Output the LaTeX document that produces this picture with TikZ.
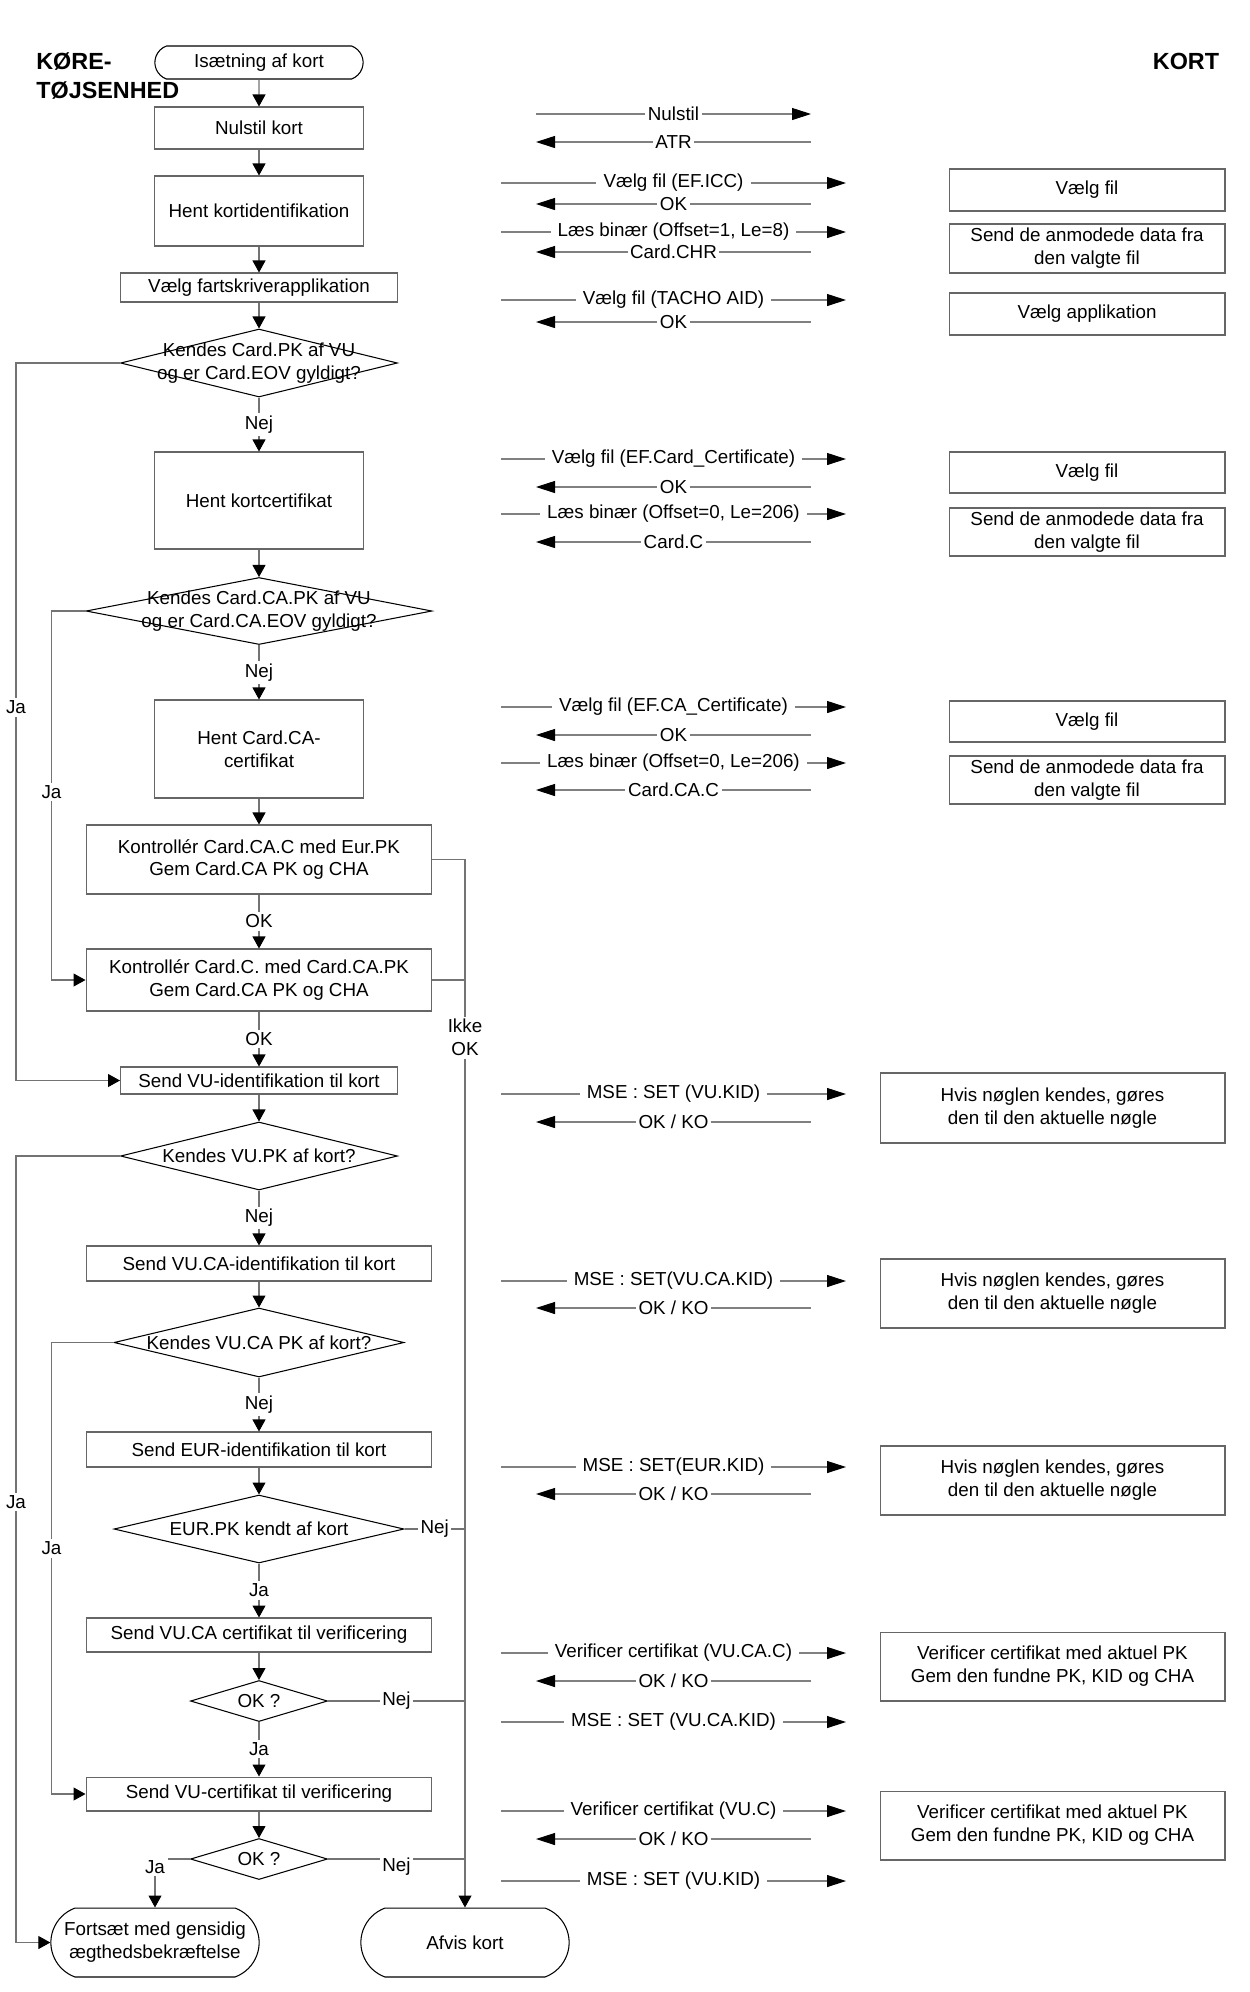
\documentclass[tikz,border=0pt]{standalone}
\usepackage{fontspec}
\setmainfont{Liberation Sans}
\usetikzlibrary{arrows.meta, positioning, shapes.geometric, shapes.misc}

\begin{document}
\begin{tikzpicture}[
  x=0.02cm, y=-0.02cm,
  every node/.style={font=\fontsize{10.7}{13}\selectfont},
  box/.style={
    draw=black!60,
    line width=0.6pt,
    align=center,
    inner sep=2pt
  },
  cardbox/.style={box, minimum width=5.52cm},
  keybox/.style={box, minimum width=6.9cm, minimum height=1.38cm},
  decide/.style={
    draw=black,
    line width=0.6pt,
    diamond,
    inner sep=0pt
  },
  qtext/.style={align=center, inner sep=0pt},
  terminal/.style={
    draw=black,
    line width=0.6pt,
    rounded rectangle,
    rounded rectangle arc length=140,
    align=center
  },
  heading/.style={font=\fontsize{13.3}{16.5}\selectfont\bfseries, align=left, inner sep=0pt},
  arrow/.style={-{Triangle[length=0.24cm, width=0.26cm, color=black]}, draw=black!55, line width=0.6pt},
  link/.style={draw=black!55, line width=0.6pt},
  msg/.style={-{Triangle[length=0.38cm, width=0.24cm, color=black]}, draw=black!50, line width=0.6pt},
  tag/.style={fill=white, inner sep=1.5pt, align=center}
]
  \useasboundingbox (0,0) rectangle (1250,1992);

  % headings
  \node[heading, anchor=north west] (vuhead) at (36,52) {KØRE-\\TØJSENHED};
  \node[heading] (cardhead) at (1186,61) {KORT};

  % vehicle unit flow
  \node[terminal, minimum width=4.4cm, minimum height=0.66cm] (start) at (259,62.5) {Isætning af kort};
  \node[box, minimum width=4.18cm, minimum height=0.84cm] (reset) at (259,128) {Nulstil kort};
  \node[box, minimum width=4.18cm, minimum height=1.4cm] (cardid) at (259,211) {Hent kortidentifikation};
  \node[box, minimum width=5.54cm, minimum height=0.58cm] (selapp) at (259,287.5) {Vælg fartskriverapplikation};
  \node[decide, minimum width=5.54cm, minimum height=1.36cm] (q1) at (259,363) {};
  \node[qtext] (q1t) at (q1) {Kendes Card.PK af VU\\og er Card.EOV gyldigt?};
  \node[box, minimum width=4.18cm, minimum height=1.94cm] (cardcert) at (259,500.5) {Hent kortcertifikat};
  \node[decide, minimum width=6.92cm, minimum height=1.34cm] (q2) at (259,611) {};
  \node[qtext] (q2t) at (q2) {Kendes Card.CA.PK af VU\\og er Card.CA.EOV gyldigt?};
  \node[box, minimum width=4.18cm, minimum height=1.96cm] (cacert) at (259,749) {Hent Card.CA-\\certifikat};
  \node[box, minimum width=6.92cm, minimum height=1.38cm] (chk1) at (259,859.5) {Kontrollér Card.CA.C med Eur.PK\\Gem Card.CA PK og CHA};
  \node[box, minimum width=6.92cm, minimum height=1.24cm] (chk2) at (259,980) {Kontrollér Card.C. med Card.CA.PK\\Gem Card.CA PK og CHA};
  \node[box, minimum width=5.54cm, minimum height=0.54cm] (sendvu) at (259,1080.5) {Send VU-identifikation til kort};
  \node[decide, minimum width=5.54cm, minimum height=1.36cm] (q3) at (259,1156) {};
  \node[qtext] (q3t) at (q3) {Kendes VU.PK af kort?};
  \node[box, minimum width=6.92cm, minimum height=0.7cm] (sendca) at (259,1263.5) {Send VU.CA-identifikation til kort};
  \node[decide, minimum width=5.8cm, minimum height=1.38cm] (q4) at (259,1342.5) {};
  \node[qtext] (q4t) at (q4) {Kendes VU.CA PK af kort?};
  \node[box, minimum width=6.92cm, minimum height=0.7cm] (sendeur) at (259,1449.5) {Send EUR-identifikation til kort};
  \node[decide, minimum width=5.8cm, minimum height=1.36cm] (q5) at (259,1529) {};
  \node[qtext] (q5t) at (q5) {EUR.PK kendt af kort};
  \node[box, minimum width=6.92cm, minimum height=0.68cm] (sendcacert) at (259,1635) {Send VU.CA certifikat til verificering};
  \node[decide, minimum width=2.74cm, minimum height=0.82cm] (q6) at (259,1701) {};
  \node[qtext] (q6t) at (q6) {OK ?};
  \node[box, minimum width=6.92cm, minimum height=0.68cm] (sendvucert) at (259,1794) {Send VU-certifikat til verificering};
  \node[decide, minimum width=2.74cm, minimum height=0.82cm] (q7) at (259,1859) {};
  \node[qtext] (q7t) at (q7) {OK ?};
  \node[terminal, minimum width=4.4cm, minimum height=1.38cm] (cont) at (155,1942.5) {Fortsæt med gensidig\\ægthedsbekræftelse};
  \node[terminal, minimum width=4.4cm, minimum height=1.38cm] (reject) at (465,1942.5) {Afvis kort};

  \draw[arrow] (start) -- (reset);
  \draw[arrow] (reset) -- (cardid);
  \draw[arrow] (cardid) -- (selapp);
  \draw[arrow] (selapp) -- (q1);
  \draw[arrow] (q1) -- node[tag]{Nej} (cardcert);
  \draw[arrow] (cardcert) -- (q2);
  \draw[arrow] (q2) -- node[tag]{Nej} (cacert);
  \draw[arrow] (cacert) -- (chk1);
  \draw[arrow] (chk1) -- node[tag]{OK} (chk2);
  \draw[arrow] (chk2) -- node[tag]{OK} (sendvu);
  \draw[arrow] (sendvu) -- (q3);
  \draw[arrow] (q3) -- node[tag]{Nej} (sendca);
  \draw[arrow] (sendca) -- (q4);
  \draw[arrow] (q4) -- node[tag]{Nej} (sendeur);
  \draw[arrow] (sendeur) -- (q5);
  \draw[arrow] (q5) -- node[tag]{Ja} (sendcacert);
  \draw[arrow] (sendcacert) -- (q6);
  \draw[arrow] (q6) -- node[tag]{Ja} (sendvucert);
  \draw[arrow] (sendvucert) -- (q7);

  % yes branches on the left
  \draw[arrow] (q1.west) -- ++(-104,0) |- node[tag, pos=0.24]{Ja} (sendvu.west);
  \draw[arrow] (q2.west) -- ++(-34,0) |- node[tag, pos=0.245]{Ja} (chk2.west);
  \draw[arrow] (q3.west) -- ++(-104,0) |- node[tag, pos=0.22]{Ja} (cont.west);
  \draw[arrow] (q4.west) -- ++(-62,0) |- node[tag, pos=0.228]{Ja} (sendvucert.west);
  \draw[arrow] (q7.west) -| node[tag, pos=0.5, yshift=-0.16cm]{Ja} (cont.north);

  % rejections on the right
  \draw[arrow] (chk1.east) -| node[tag, pos=0.585]{Ikke\\OK} (reject.north);
  \draw[link] (chk2.east) -- (chk2.east -| reject.north);
  \draw[link] (q5.east) -- node[tag]{Nej} (q5.east -| reject.north);
  \draw[link] (q6.east) -- node[tag]{Nej} (q6.east -| reject.north);
  \draw[link] (q7.east) -- node[tag, yshift=-0.16cm]{Nej} (q7.east -| reject.north);

  % card side
  \node[cardbox, minimum height=0.84cm] (sel1) at (1087,190) {Vælg fil};
  \node[cardbox, minimum height=0.98cm] (read1) at (1087,248.5) {Send de anmodede data fra\\den valgte fil};
  \node[cardbox, minimum height=0.84cm] (selapp2) at (1087,314) {Vælg applikation};
  \node[cardbox, minimum height=0.82cm] (sel2) at (1087,472.5) {Vælg fil};
  \node[cardbox, minimum height=0.96cm] (read2) at (1087,532) {Send de anmodede data fra\\den valgte fil};
  \node[cardbox, minimum height=0.82cm] (sel3) at (1087,721.5) {Vælg fil};
  \node[cardbox, minimum height=0.96cm] (read3) at (1087,780) {Send de anmodede data fra\\den valgte fil};
  \node[keybox, minimum height=1.4cm] (key1) at (1052.5,1108) {Hvis nøglen kendes, gøres\\den til den aktuelle nøgle};
  \node[keybox] (key2) at (1052.5,1293.5) {Hvis nøglen kendes, gøres\\den til den aktuelle nøgle};
  \node[keybox] (key3) at (1052.5,1480.5) {Hvis nøglen kendes, gøres\\den til den aktuelle nøgle};
  \node[keybox] (ver1) at (1052.5,1666.5) {Verificer certifikat med aktuel PK\\Gem den fundne PK, KID og CHA};
  \node[keybox] (ver2) at (1052.5,1825.5) {Verificer certifikat med aktuel PK\\Gem den fundne PK, KID og CHA};

  % commands to the card
  \coordinate (rsta) at (536,114);
  \coordinate (rstb) at (811,114);
  \draw[msg] (rsta) -- node[tag]{Nulstil} (rstb);
  \foreach \yy/\txt [count=\k] in {
    183/{Vælg fil (EF.ICC)},
    232/{Læs binær (Offset=1, Le=8)},
    300/{Vælg fil (TACHO AID)},
    459/{Vælg fil (EF.Card\_Certificate)},
    514/{Læs binær (Offset=0, Le=206)},
    707/{Vælg fil (EF.CA\_Certificate)},
    763/{Læs binær (Offset=0, Le=206)},
    1094/{MSE : SET (VU.KID)},
    1281/{MSE : SET(VU.CA.KID)},
    1467/{MSE : SET(EUR.KID)},
    1653/{Verificer certifikat (VU.CA.C)},
    1722/{MSE : SET (VU.CA.KID)},
    1811/{Verificer certifikat (VU.C)},
    1881/{MSE : SET (VU.KID)}}
  {
    \coordinate (rqa\k) at (501,\yy);
    \coordinate (rqb\k) at (846,\yy);
    \draw[msg] (rqa\k) -- node[tag, inner xsep=4pt]{\txt} (rqb\k);
  }

  % answers from the card
  \foreach \yy/\txt [count=\k] in {
    142/{ATR}, 204/{OK}, 252/{Card.CHR}, 322/{OK},
    487/{OK}, 542/{Card.C}, 735/{OK}, 790/{Card.CA.C},
    1122/{OK / KO}, 1308/{OK / KO}, 1494/{OK / KO},
    1681/{OK / KO}, 1839/{OK / KO}}
  {
    \coordinate (rsa\k) at (811,\yy);
    \coordinate (rsb\k) at (536,\yy);
    \draw[msg] (rsa\k) -- node[tag]{\txt} (rsb\k);
  }
\end{tikzpicture}
\end{document}
